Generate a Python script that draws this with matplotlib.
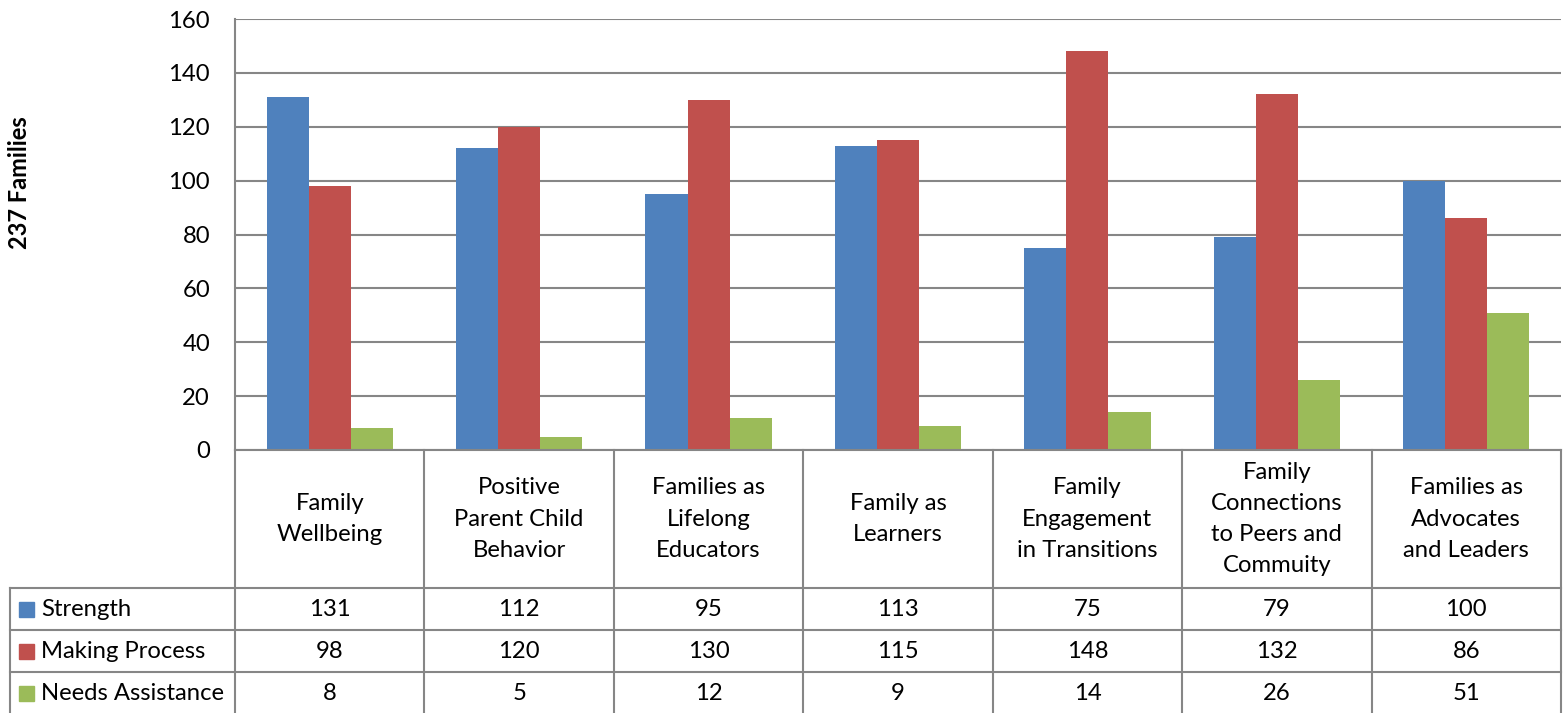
import numpy as np
import matplotlib.pyplot as plt
from matplotlib.patches import Rectangle

plt.rcParams['font.family'] = ['Lato', 'DejaVu Sans']

categories = ['Family\nWellbeing', 'Positive\nParent Child\nBehavior', 'Families as\nLifelong\nEducators',
              'Family as\nLearners', 'Family\nEngagement\nin Transitions', 'Family\nConnections\nto Peers and\nCommuity',
              'Families as\nAdvocates\nand Leaders']
series = ['Strength', 'Making Process', 'Needs Assistance']
strength = [131, 112, 95, 113, 75, 79, 100]
making_process = [98, 120, 130, 115, 148, 132, 86]
needs_assistance = [8, 5, 12, 9, 14, 26, 51]
values = [strength, making_process, needs_assistance]
colors = ['#4F81BD', '#C0504D', '#9BBB59']
grid_col = '#868686'
fs = 17.2

W, H = 1564, 713
fig = plt.figure(figsize=(W / 100, H / 100), dpi=100)

# plot area in pixel terms
left, right, top, bottom = 235, 1561, 19, 450
ax = fig.add_axes([left / W, 1 - bottom / H, (right - left) / W, (bottom - top) / H])

x = np.arange(len(categories))
bw = 0.222
for i, (vals, c) in enumerate(zip(values, colors)):
    ax.bar(x + (i - 1) * bw, vals, bw, color=c, label=series[i])

ax.set_xlim(-0.5, len(categories) - 0.5)
ax.set_ylim(0, 160)
ax.set_yticks(range(0, 161, 20))
ax.set_xticks([])
ax.yaxis.grid(True, color=grid_col, lw=1.5)
ax.set_axisbelow(True)
for s in ['top', 'right']:
    ax.spines[s].set_visible(False)
for s in ['left', 'bottom']:
    ax.spines[s].set_color(grid_col)
    ax.spines[s].set_linewidth(1.5)
ax.tick_params(axis='y', length=0, labelsize=fs, pad=18)

fig.text(20 / W, 1 - 183 / H, '237 Families', rotation=90, fontsize=17, fontweight='bold',
         ha='center', va='center')

# data table drawn in pixel coords
tax = fig.add_axes([0, 0, 1, 1])
tax.set_xlim(0, W)
tax.set_ylim(H, 0)
tax.axis('off')

ncol = len(categories)
cw = (right - left) / ncol
edges = [left + k * cw for k in range(ncol + 1)]
head_bot = 588
row_h = 42
lw = 1.5
for e in edges:
    tax.plot([e, e], [bottom, H], color=grid_col, lw=lw)
tax.plot([10, 10], [head_bot, H], color=grid_col, lw=lw)
for r in range(3):
    yy = head_bot + r * row_h
    tax.plot([10, right], [yy, yy], color=grid_col, lw=lw)

for k, cat in enumerate(categories):
    cx = left + (k + 0.5) * cw
    tax.text(cx, 519, cat, ha='center', va='center', fontsize=fs, linespacing=1.6)
    for r in range(3):
        tax.text(cx, head_bot + (r + 0.5) * row_h, str(values[r][k]), ha='center', va='center', fontsize=fs)

for r, (name, c) in enumerate(zip(series, colors)):
    cy = head_bot + (r + 0.5) * row_h
    tax.add_patch(Rectangle((19, cy - 7.5), 15, 15, color=c))
    tax.text(41, cy, name, ha='left', va='center', fontsize=fs)

fig.savefig('out.png', dpi=100)
